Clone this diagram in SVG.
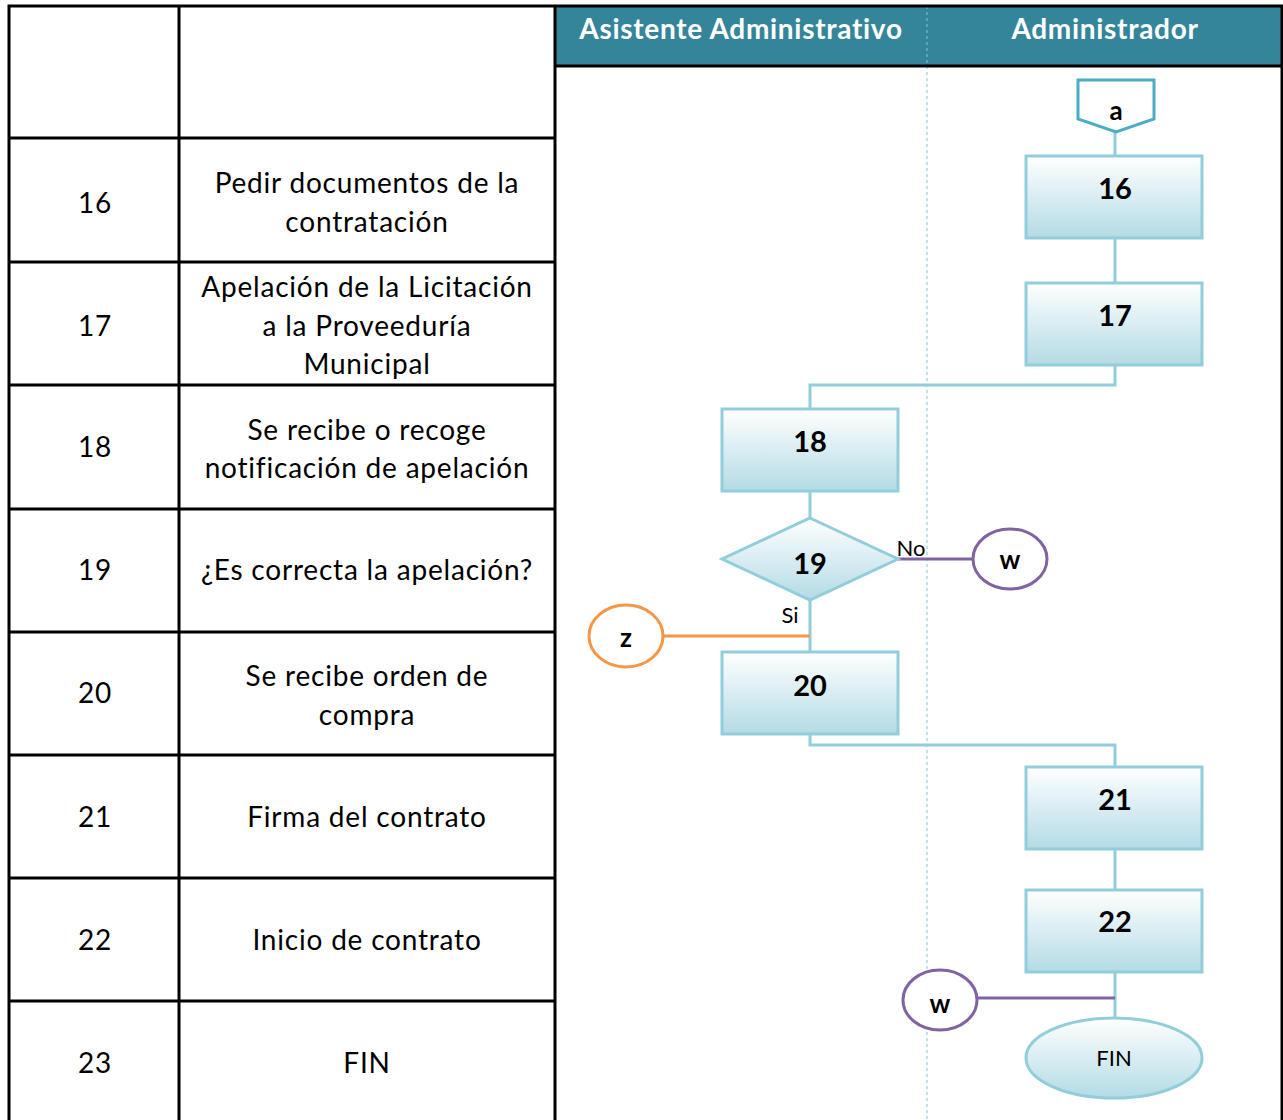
<svg xmlns="http://www.w3.org/2000/svg" width="1283" height="1120" viewBox="0 0 1283 1120">
<style>
.tbl{stroke:#000;stroke-width:3;fill:none}
.cell{font-family:Lato,"Liberation Sans",sans-serif;font-size:28px;letter-spacing:0.8px;fill:#000;text-anchor:middle}
.hdr{font-family:Lato,"Liberation Sans",sans-serif;font-size:28px;letter-spacing:0.7px;font-weight:bold;fill:#fff;text-anchor:middle}
.box{fill:url(#g);stroke:#92cddc;stroke-width:3}
.lbl{font-family:Lato,"Liberation Sans",sans-serif;font-size:29px;font-weight:bold;fill:#000;text-anchor:middle}
.con{font-family:Lato,"Liberation Sans",sans-serif;font-size:26px;font-weight:bold;fill:#000;text-anchor:middle}
.sm{font-family:Lato,"Liberation Sans",sans-serif;font-size:22px;fill:#000;text-anchor:middle}
.flow{stroke:#92cddc;stroke-width:3;fill:none}
.purp{stroke:#8064a2;stroke-width:3;fill:none}
.orng{stroke:#f79646;stroke-width:3;fill:none}
</style>
<defs>
<linearGradient id="g" x1="0" y1="0" x2="0" y2="1">
<stop offset="0" stop-color="#ffffff"/>
<stop offset="1" stop-color="#b3dbe5"/>
</linearGradient>
</defs>
<rect width="1283" height="1120" fill="#fff"/>
<g id="table">
<rect x="555" y="6" width="727" height="60" fill="#348599"/>
<line x1="927" y1="6" x2="927" y2="1120" stroke="#7fc6d6" stroke-width="1" stroke-dasharray="3,3"/>
<path class="tbl" d="M9,1120 V6 H1282 V1120 M179,6 V1120 M555,6 V1120 M555,66 H1282 M9,138 H555 M9,262 H555 M9,385 H555 M9,509 H555 M9,632 H555 M9,755 H555 M9,878 H555 M9,1001 H555"/>
<text class="hdr" x="741" y="39">Asistente Administrativo</text>
<text class="hdr" x="1105" y="39">Administrador</text>
<text class="cell" x="95" y="213">16</text>
<text class="cell" x="367" y="193">Pedir documentos de la</text>
<text class="cell" x="367" y="232">contratación</text>
<text class="cell" x="95" y="336">17</text>
<text class="cell" x="367" y="297">Apelación de la Licitación</text>
<text class="cell" x="367" y="336">a la Proveeduría</text>
<text class="cell" x="367" y="374">Municipal</text>
<text class="cell" x="95" y="457">18</text>
<text class="cell" x="367" y="440">Se recibe o recoge</text>
<text class="cell" x="367" y="478">notificación de apelación</text>
<text class="cell" x="95" y="580">19</text>
<text class="cell" x="367" y="580">¿Es correcta la apelación?</text>
<text class="cell" x="95" y="703">20</text>
<text class="cell" x="367" y="686">Se recibe orden de</text>
<text class="cell" x="367" y="725">compra</text>
<text class="cell" x="95" y="827">21</text>
<text class="cell" x="367" y="827">Firma del contrato</text>
<text class="cell" x="95" y="950">22</text>
<text class="cell" x="367" y="950">Inicio de contrato</text>
<text class="cell" x="95" y="1073">23</text>
<text class="cell" x="367" y="1073">FIN</text>
</g>
<g id="connectors">
<path class="flow" d="M1115,132 V156"/>
<path class="flow" d="M1115,238 V283"/>
<path class="flow" d="M1115,365 V385 H810 V409"/>
<path class="flow" d="M810,491 V518"/>
<path class="flow" d="M810,600 V652"/>
<path class="purp" d="M898,559 H973"/>
<path class="orng" d="M664,636 H810"/>
<path class="flow" d="M810,734 V745 H1115 V767"/>
<path class="flow" d="M1115,848 V890"/>
<path class="flow" d="M1115,972 V1018"/>
<path class="purp" d="M977,998 H1115"/>
<text class="sm" x="911" y="556">No</text>
<text class="sm" x="790" y="623">Si</text>
</g>
<g id="node-a">
<path d="M1078,80 H1154 V119 L1116,132 L1078,119 Z" fill="#fff" stroke="#4bacc6" stroke-width="3"/>
<text class="con" x="1116" y="120">a</text>
</g>
<g id="node-16"><rect class="box" x="1026" y="156" width="176" height="82"/><text class="lbl" x="1115" y="199">16</text></g>
<g id="node-17"><rect class="box" x="1026" y="283" width="176" height="82"/><text class="lbl" x="1115" y="326">17</text></g>
<g id="node-18"><rect class="box" x="722" y="409" width="176" height="82"/><text class="lbl" x="810" y="452">18</text></g>
<g id="node-19"><path class="box" d="M810,518 L898,559 L810,600 L722,559 Z"/><text class="lbl" x="810" y="574">19</text></g>
<g id="node-w1"><ellipse cx="1010" cy="559" rx="37" ry="30" fill="#fff" stroke="#8064a2" stroke-width="3"/><text class="con" x="1010" y="569">w</text></g>
<g id="node-z"><ellipse cx="626" cy="636" rx="37" ry="31" fill="#fff" stroke="#f79646" stroke-width="3"/><text class="con" x="626" y="647">z</text></g>
<g id="node-20"><rect class="box" x="722" y="652" width="176" height="82"/><text class="lbl" x="810" y="696">20</text></g>
<g id="node-21"><rect class="box" x="1026" y="767" width="176" height="82"/><text class="lbl" x="1115" y="810">21</text></g>
<g id="node-22"><rect class="box" x="1026" y="890" width="176" height="82"/><text class="lbl" x="1115" y="932">22</text></g>
<g id="node-w2"><ellipse cx="940" cy="1000" rx="37" ry="30" fill="#fff" stroke="#8064a2" stroke-width="3"/><text class="con" x="940" y="1013">w</text></g>
<g id="node-fin"><ellipse class="box" cx="1114" cy="1058" rx="88" ry="40"/><text class="sm" x="1114" y="1066">FIN</text></g>
</svg>
